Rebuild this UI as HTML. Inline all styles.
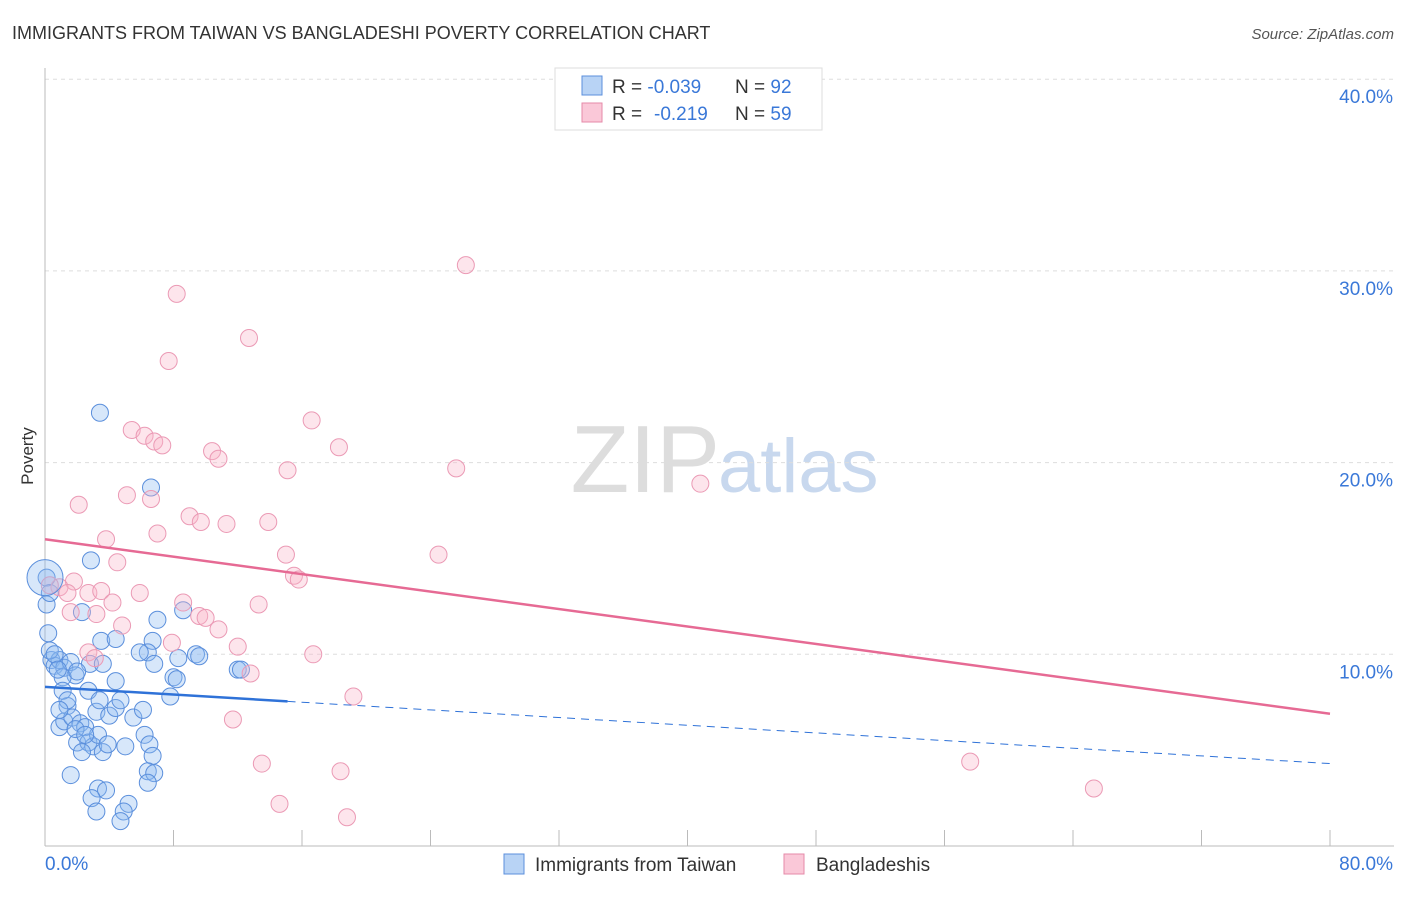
<!DOCTYPE html>
<html><head><meta charset="utf-8"><style>
body{margin:0;background:#fff;font-family:"Liberation Sans",sans-serif}
svg text{font-family:"Liberation Sans",sans-serif}
</style></head><body>
<svg width="1406" height="892" xmlns="http://www.w3.org/2000/svg">
<text x="12" y="39" font-size="18" fill="#333">IMMIGRANTS FROM TAIWAN VS BANGLADESHI POVERTY CORRELATION CHART</text>
<text x="1394" y="39" font-size="15" fill="#555" font-style="italic" text-anchor="end">Source: ZipAtlas.com</text>
<text x="720" y="492" font-size="96" fill="#ddd" text-anchor="end" font-family="Liberation Serif">ZIP</text>
<text x="718" y="492" font-size="76" fill="#c8d8ee">atlas</text>
<g id="grid"></g>
<g id="axes"></g>
<g id="pts"></g>
<g id="trend"></g>
<text x="33" y="456" font-size="17" fill="#333" transform="rotate(-90 33 456)" text-anchor="middle">Poverty</text>
<g>
<rect x="555" y="68" width="267" height="62" fill="#fff" stroke="#ddd"/>
<rect x="582" y="76" width="20" height="19" fill="#b8d3f5" stroke="#5b8fdc"/>
<rect x="582" y="103" width="20" height="19" fill="#fac8d8" stroke="#e58aa8"/>
<text x="612" y="93" font-size="19" fill="#333">R = <tspan fill="#3a78d8">-0.039</tspan><tspan x="735">N = </tspan><tspan fill="#3a78d8">92</tspan></text>
<text x="612" y="120" font-size="19" fill="#333">R = <tspan fill="#3a78d8" x="654">-0.219</tspan><tspan x="735">N = </tspan><tspan fill="#3a78d8">59</tspan></text>
</g>
<g>
<rect x="504" y="854" width="20" height="20" fill="#b8d3f5" stroke="#5b8fdc"/>
<text x="535" y="871" font-size="19" fill="#333">Immigrants from Taiwan</text>
<rect x="784" y="854" width="20" height="20" fill="#fac8d8" stroke="#e58aa8"/>
<text x="816" y="871" font-size="19" fill="#333">Bangladeshis</text>
</g>
</svg>
<script>
const xTicks=[0,8,16,24,32,40,48,56,64,72,80];
const yTicks=[10,20,30,40];
const yTickLabels=["10.0%","20.0%","30.0%","40.0%"];
const taiwanX=[3.42,6.6,2.86,2.3,7.0,8.6,3.5,4.4,6.7,6.4,5.9,8.3,6.8,9.4,9.6,12.0,12.2,8.0,8.2,7.8,0.4,0.6,0.9,1.2,1.6,1.9,1.1,2.8,3.6,2.7,4.4,3.2,1.4,0.9,1.2,1.7,2.2,2.5,2.0,2.7,3.0,3.3,3.6,4.0,4.4,5.5,5.0,6.2,6.5,6.7,6.4,6.8,6.4,1.6,3.3,3.8,2.9,3.2,5.2,4.9,4.7,0.1,0.1,0.3,0.2,0.3,0.6,0.8,1.1,1.4,2.0,3.4,1.9,2.5,3.9,4.7,6.1,2.3,0.9];
const taiwanY=[22.6,18.7,14.9,12.2,11.8,12.3,10.7,10.8,10.7,10.1,10.1,9.8,9.5,10.0,9.9,9.2,9.2,8.8,8.7,7.8,9.7,9.4,9.7,9.3,9.6,8.9,8.8,9.5,9.5,8.1,8.6,7.0,7.3,6.2,6.5,6.7,6.4,6.2,5.4,5.4,5.2,5.8,4.9,6.8,7.2,6.7,5.2,5.8,5.3,4.7,3.9,3.8,3.3,3.7,3.0,2.9,2.5,1.8,2.2,1.8,1.3,14.0,12.6,13.2,11.1,10.2,10.0,9.2,8.1,7.6,9.1,7.6,6.1,5.8,5.3,7.6,7.1,4.9,7.1];
const bangX=[26.2,8.2,12.7,7.7,16.6,5.4,6.2,6.8,7.3,18.3,10.4,10.8,15.1,25.6,40.8,5.1,6.6,2.1,9.0,9.7,11.3,13.9,7.0,3.8,24.5,15.0,4.5,15.5,15.8,1.8,0.9,0.3,1.4,5.9,2.7,3.5,4.2,8.6,13.3,1.6,3.2,9.6,10.0,4.8,10.8,7.9,12.0,2.7,3.1,16.7,12.8,19.2,11.7,13.5,18.4,57.6,65.3,14.6,18.8];
const bangY=[30.3,28.8,26.5,25.3,22.2,21.7,21.4,21.1,20.9,20.8,20.6,20.2,19.6,19.7,18.9,18.3,18.1,17.8,17.2,16.9,16.8,16.9,16.3,16.0,15.2,15.2,14.8,14.1,13.9,13.8,13.5,13.6,13.2,13.2,13.2,13.3,12.7,12.7,12.6,12.2,12.1,12.0,11.9,11.5,11.3,10.6,10.4,10.1,9.8,10.0,9.0,7.8,6.6,4.3,3.9,4.4,3.0,2.2,1.5];
const taiwanTrend=[8.3,4.3]; const taiwanSolidEnd=15.1;
const bangTrend=[16.0,6.9];
const X=v=>45+v/80*1285, Y=v=>846-v*19.17;
const NS="http://www.w3.org/2000/svg";
function mk(p,tag,a){const e=document.createElementNS(NS,tag);for(const k in a)e.setAttribute(k,a[k]);document.getElementById(p).appendChild(e);return e;}
yTicks.forEach((t,i)=>{
 const g=mk('grid','line',{x1:45,x2:1394,y1:Y(t),y2:Y(t),stroke:'#ddd','stroke-dasharray':'4,4'});
 
 
 const l=mk('grid','text',{x:1393,y:Y(t)+24,'font-size':19,fill:'#3a78d8','text-anchor':'end'});l.textContent=yTickLabels[i];
 
 
});
mk('axes','line',{x1:45,x2:45,y1:68,y2:846,stroke:'#bbb'});
mk('axes','line',{x1:45,x2:1394,y1:846,y2:846,stroke:'#bbb'});
xTicks.forEach(t=>{const l=mk('axes','line',{x1:X(t),x2:X(t),y1:830,y2:846,stroke:'#bbb'});
 
 });
const x0=mk('axes','text',{x:45,y:870,'font-size':19,fill:'#3a78d8'});x0.textContent='0.0%';


const x1=mk('axes','text',{x:1393,y:870,'font-size':19,fill:'#3a78d8','text-anchor':'end'});x1.textContent='80.0%';


taiwanX.forEach((v,i)=>{const c=mk('pts','circle',{cx:X(v),cy:Y(taiwanY[i]),r:8.5,fill:'rgba(140,185,240,0.35)',stroke:'#5b8fdc','stroke-width':1});
 
 });
bangX.forEach((v,i)=>{const c=mk('pts','circle',{cx:X(v),cy:Y(bangY[i]),r:8.5,fill:'rgba(248,180,200,0.35)',stroke:'#eb9ab5','stroke-width':1});
 
 });
const big1=mk('pts','circle',{cx:45,cy:Y(14),r:18,fill:'rgba(140,185,240,0.35)',stroke:'#5b8fdc'});


const ty=x=>taiwanTrend[0]+(taiwanTrend[1]-taiwanTrend[0])*x/80;
const by=x=>bangTrend[0]+(bangTrend[1]-bangTrend[0])*x/80;
const t1=mk('trend','line',{x1:X(0),y1:Y(ty(0)),x2:X(taiwanSolidEnd),y2:Y(ty(taiwanSolidEnd)),stroke:'#2f72d8','stroke-width':2.5});


const t2=mk('trend','line',{x1:X(taiwanSolidEnd),y1:Y(ty(taiwanSolidEnd)),x2:X(80),y2:Y(ty(80)),stroke:'#2f72d8','stroke-width':1,'stroke-dasharray':'8,6'});


const t3=mk('trend','line',{x1:X(0),y1:Y(by(0)),x2:X(80),y2:Y(by(80)),stroke:'#e66a94','stroke-width':2.5});


</script>
</body></html>
